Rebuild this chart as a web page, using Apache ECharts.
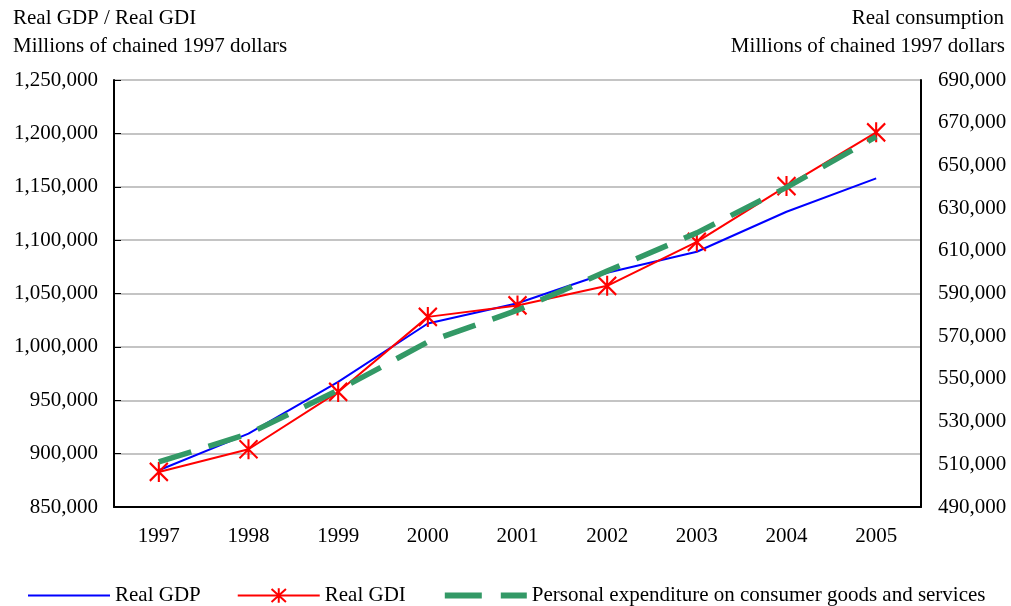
<!DOCTYPE html>
<html>
<head>
<meta charset="utf-8">
<script src="https://cdn.jsdelivr.net/npm/echarts@6/dist/echarts.min.js"></script>
<style>
  html, body { margin: 0; padding: 0; background: #fff; }
  #chart { width: 1011px; height: 606px; }
</style>
</head>
<body>
<div id="chart"></div>
<script>
// data
const years = ['1997', '1998', '1999', '2000', '2001', '2002', '2003', '2004', '2005'];
const realGdp = [884400, 918800, 967200, 1021900, 1040800, 1069400, 1089100, 1126600, 1157900];
const realGdi = [882800, 904100, 957800, 1028100, 1038800, 1057200, 1098400, 1150600, 1201000];
const consumption = [511100, 524300, 544700, 567300, 582200, 600500, 618400, 639700, 663500];

const FONT = 'Liberation Serif';
const fmt = v => v.toLocaleString('en-US');
const txt = (t, pos) => Object.assign({
  type: 'text',
  style: { text: t, font: '21px ' + FONT, fill: '#000' }
}, pos);

const chart = echarts.init(document.getElementById('chart'));
chart.setOption({
  animation: false,
  textStyle: { fontFamily: FONT, color: '#000' },
  grid: {
    left: 114, right: 90, top: 80, bottom: 99,
    show: true, borderColor: '#888', borderWidth: 1
  },
  graphic: [
    txt('Real GDP / Real GDI', { left: 13, top: 8 }),
    txt('Millions of chained 1997 dollars', { left: 13, top: 36 }),
    txt('Real consumption', { right: 7, top: 8 }),
    txt('Millions of chained 1997 dollars', { right: 6, top: 36 })
  ],
  legend: {
    left: 22, top: 580,
    itemWidth: 82, itemHeight: 18, itemGap: 36,
    textStyle: { fontFamily: FONT, fontSize: 21, color: '#000' },
    data: [
      { name: 'Real GDP', itemStyle: { opacity: 0 } },
      { name: 'Real GDI' },
      { name: 'Personal expenditure on consumer goods and services',
        itemStyle: { opacity: 0 }, lineStyle: { width: 6, type: [37, 19] } }
    ]
  },
  xAxis: {
    type: 'category',
    data: years,
    axisLine: { lineStyle: { color: '#000', width: 2 } },
    axisTick: { inside: true, length: 7, lineStyle: { color: '#000' } },
    axisLabel: { fontSize: 21, color: '#000', margin: 19 }
  },
  yAxis: [
    {
      type: 'value', min: 850000, max: 1250000, interval: 50000,
      axisLine: { show: true, lineStyle: { color: '#000', width: 2 } },
      axisTick: { show: true, inside: true, length: 7, lineStyle: { color: '#000' } },
      axisLabel: { fontSize: 21, color: '#000', margin: 16, formatter: fmt },
      splitLine: { lineStyle: { color: '#c4c4c4', width: 2 } }
    },
    {
      type: 'value', min: 490000, max: 690000, interval: 20000,
      axisLine: { show: true, lineStyle: { color: '#000', width: 2 } },
      axisTick: { show: false },
      axisLabel: { fontSize: 21, color: '#000', margin: 17, formatter: fmt },
      splitLine: { show: false }
    }
  ],
  series: [
    {
      name: 'Real GDP', type: 'line', data: realGdp,
      showSymbol: false, symbol: 'none',
      lineStyle: { color: '#0000ff', width: 2 },
      itemStyle: { color: '#0000ff' }, z: 3
    },
    {
      name: 'Real GDI', type: 'line', data: realGdi,
      symbol: 'path://M0,-10L0,10M-9,-9L9,9M-9,9L9,-9',
      symbolSize: [18, 20],
      lineStyle: { color: '#ff0000', width: 2 },
      itemStyle: { color: '#ff0000', borderColor: '#ff0000', borderWidth: 2.2 }, z: 4
    },
    {
      name: 'Personal expenditure on consumer goods and services', type: 'line',
      yAxisIndex: 1, data: consumption,
      showSymbol: false, symbol: 'none',
      lineStyle: { color: '#339966', width: 5.5, type: [34, 18] },
      itemStyle: { color: '#339966' }, z: 5
    }
  ]
});
</script>
</body>
</html>
